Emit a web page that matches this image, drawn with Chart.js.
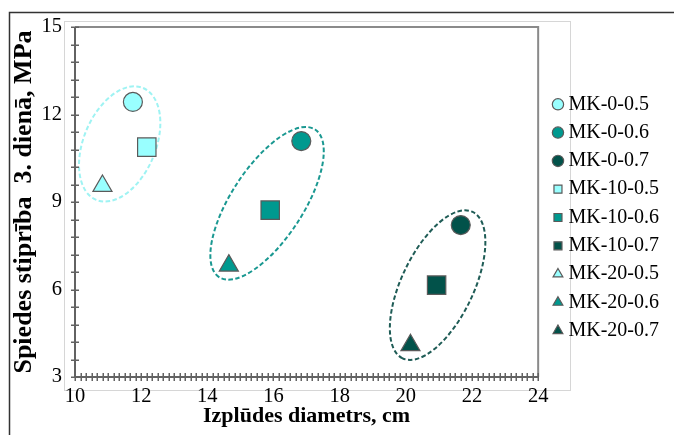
<!DOCTYPE html>
<html><head><meta charset="utf-8">
<script src="https://cdn.jsdelivr.net/npm/chart.js@4.4.0/dist/chart.umd.min.js"></script>
<style>html,body{margin:0;padding:0;background:#fff}#wrap{width:674px;height:435px;position:relative}</style>
</head><body><div id="wrap"><canvas id="c" width="674" height="435"></canvas></div>
<script>
// ---- data ----
const seriesNames = ['MK-0-0.5','MK-0-0.6','MK-0-0.7','MK-10-0.5','MK-10-0.6','MK-10-0.7','MK-20-0.5','MK-20-0.6','MK-20-0.7'];
const flowDiameter = [11.75, 16.84, 21.66, 12.17, 15.90, 20.93, 10.83, 14.65, 20.14]; // cm
const strength3d   = [12.43, 11.09, 8.21, 10.88, 8.72, 6.15, 9.55, 6.82, 4.09];    // MPa
const wcGroups = ['0.5', '0.6', '0.7'];
const xTicks = [10, 12, 14, 16, 18, 20, 22, 24];
const yTicks = [3, 6, 9, 12, 15];
const xTitle = 'Izplūdes diametrs, cm';
const yTitle = 'Spiedes stiprība  3. dienā, MPa';

// ---- styles ----
const groupFill = {'0.5': '#99FFFF', '0.6': '#00998F', '0.7': '#02524A'};
const groupEllipse = {'0.5': '#9FF3F3', '0.6': '#1A9891', '0.7': '#1F5C56'};
const shapeFor = {'MK-0': ['circle', 9.5], 'MK-10': ['rect', 13], 'MK-20': ['triangle', 11]};
const serif = '"Liberation Serif", "Times New Roman", serif';

const datasets = seriesNames.map((name, i) => {
  const parts = name.split('-');
  const grp = parts.slice(2).join('-');
  const [shape, r] = shapeFor[parts[0] + '-' + parts[1]];
  return {
    label: name,
    data: [{x: flowDiameter[i], y: strength3d[i]}],
    pointStyle: shape,
    pointRadius: r,
    backgroundColor: groupFill[grp],
    borderColor: '#5a5a5a',
    borderWidth: 1.2
  };
});

const decor = {
  id: 'decor',
  beforeDraw(chart) {
    const ctx = chart.ctx;
    ctx.save();
    ctx.fillStyle = '#fff';
    ctx.fillRect(0, 0, chart.width, chart.height);
    ctx.strokeStyle = '#333';
    ctx.lineWidth = 1.5;
    ctx.beginPath();
    ctx.moveTo(9.5, chart.height); ctx.lineTo(9.5, 12.5); ctx.lineTo(chart.width, 12.5);
    ctx.stroke();
    ctx.strokeStyle = '#d6d6d6';
    ctx.lineWidth = 1;
    ctx.strokeRect(64.5, 21.5, 506, 369);
    ctx.restore();
  },
  beforeDatasetsDraw(chart) {
    const ctx = chart.ctx;
    const xs = chart.scales.x, ys = chart.scales.y;
    const ca = chart.chartArea;
    ctx.save();
    wcGroups.forEach(g => {
      const pts = [];
      seriesNames.forEach((n, i) => {
        if (n.endsWith('-' + g)) pts.push([xs.getPixelForValue(flowDiameter[i]), ys.getPixelForValue(strength3d[i])]);
      });
      pts.sort((a, b) => a[1] - b[1]);
      const p1 = pts[0], p2 = pts[pts.length - 1];
      const cx = (p1[0] + p2[0]) / 2 + 2, cy = (p1[1] + p2[1]) / 2;
      const ang = Math.atan2(p2[1] - p1[1], p2[0] - p1[0]) + 0.05;
      const a = Math.hypot(p2[0] - p1[0], p2[1] - p1[1]) / 2 + 16;
      ctx.beginPath();
      ctx.setLineDash([4.5, 2.5]);
      ctx.strokeStyle = groupEllipse[g];
      ctx.lineWidth = 2;
      ctx.ellipse(cx, cy, a, 36, ang, 0, Math.PI * 2);
      ctx.stroke();
    });
    ctx.setLineDash([]);
    ctx.strokeStyle = '#8a8a8a';
    ctx.lineWidth = 2;
    ctx.beginPath();
    ctx.moveTo(ca.left, ca.top); ctx.lineTo(ca.right, ca.top); ctx.lineTo(ca.right, ca.bottom);
    ctx.stroke();
    ctx.strokeStyle = '#626262';
    ctx.beginPath();
    ctx.moveTo(ca.left, ca.top); ctx.lineTo(ca.left, ca.bottom); ctx.lineTo(ca.right, ca.bottom);
    ctx.stroke();
    ctx.lineWidth = 1.5;
    ctx.beginPath();
    const yMinor = 0.6;
    for (let v = yTicks[0]; v <= yTicks[yTicks.length - 1] + 1e-6; v += yMinor) {
      const py = Math.round(ys.getPixelForValue(v)) + 0.25;
      ctx.moveTo(ca.left - 4, py); ctx.lineTo(ca.left + 4, py);
    }
    const xMinor = 2 / 12;
    for (let v = xTicks[0]; v <= xTicks[xTicks.length - 1] + 1e-6; v += xMinor) {
      const px = Math.round(xs.getPixelForValue(v)) + 0.25;
      ctx.moveTo(px, ca.bottom - 4); ctx.lineTo(px, ca.bottom + 4);
    }
    ctx.stroke();
    ctx.restore();
  }
};

new Chart(document.getElementById('c'), {
  type: 'scatter',
  data: {datasets},
  plugins: [decor],
  options: {
    responsive: false,
    devicePixelRatio: 1,
    animation: false,
    events: [],
    layout: {padding: {left: 0, top: 0, bottom: 0, right: 15}},
    plugins: {
      tooltip: {enabled: false},
      legend: {
        position: 'right',
        align: 'center',
        labels: {
          usePointStyle: true,
          boxWidth: 1,
          boxHeight: 8,
          padding: 8.3,
          color: '#000',
          font: {family: serif, size: 20}
        }
      }
    },
    scales: {
      x: {
        type: 'linear', min: xTicks[0], max: xTicks[xTicks.length - 1],
        afterBuildTicks: s => { s.ticks = xTicks.map(v => ({value: v})); },
        grid: {display: false, drawTicks: false},
        border: {display: false},
        ticks: {color: '#000', padding: 7, font: {family: serif, size: 20.5}},
        title: {display: true, text: xTitle, color: '#000', padding: {top: 0, bottom: 5}, font: {family: serif, size: 22, weight: 'bold'}},
        afterFit: s => { s.height = 58; }
      },
      y: {
        type: 'linear', min: yTicks[0], max: yTicks[yTicks.length - 1],
        afterBuildTicks: s => { s.ticks = yTicks.map(v => ({value: v})); },
        grid: {display: false, drawTicks: false},
        border: {display: false},
        ticks: {color: '#000', padding: 13, font: {family: serif, size: 20.5}},
        title: {display: true, text: yTitle, color: '#000', padding: {top: 9, bottom: 0}, font: {family: serif, size: 26, weight: 'bold'}},
        afterFit: s => { s.width = 75; }
      },
      xTop: {
        type: 'linear', position: 'top', display: true,
        grid: {display: false, drawTicks: false}, border: {display: false}, ticks: {display: false},
        afterFit: s => { s.height = 27; }
      },
      yRight: {
        type: 'linear', position: 'right', display: true,
        grid: {display: false, drawTicks: false}, border: {display: false}, ticks: {display: false},
        afterFit: s => { s.width = 11; }
      }
    }
  }
});
</script>
</body></html>
